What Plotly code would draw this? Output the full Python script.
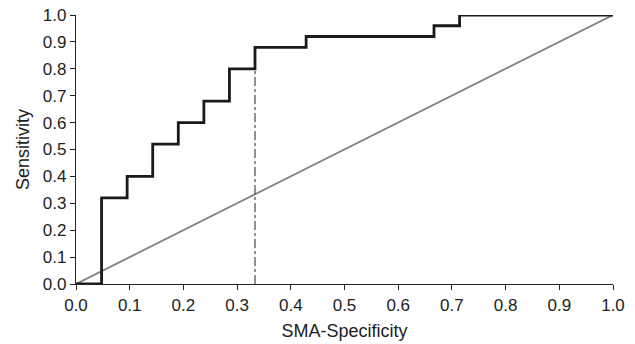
import plotly.graph_objects as go

# ROC curve data (1 - specificity steps of 1/21, sensitivity steps of 1/25)
roc_x = [0.0, 1/21, 1/21, 2/21, 2/21, 3/21, 3/21, 4/21, 4/21, 5/21, 5/21, 6/21, 6/21,
         7/21, 7/21, 9/21, 9/21, 14/21, 14/21, 15/21, 15/21, 1.0]
roc_y = [0.0, 0.0, 0.32, 0.32, 0.40, 0.40, 0.52, 0.52, 0.60, 0.60, 0.68, 0.68, 0.80,
         0.80, 0.88, 0.88, 0.92, 0.92, 0.96, 0.96, 1.0, 1.0]
diag_x = [0.0, 1.0]
diag_y = [0.0, 1.0]
cut_x = [7/21, 7/21]
cut_y = [0.0, 0.88]
tick_vals = [i / 10 for i in range(11)]
tick_text = [f"{v:.1f}" for v in tick_vals]

FONT = "Liberation Sans, Arial, sans-serif"

fig = go.Figure()
fig.add_trace(go.Scatter(x=diag_x, y=diag_y, mode="lines",
                         line=dict(color="#808080", width=1.8), showlegend=False,
                         cliponaxis=False))
fig.add_trace(go.Scatter(x=cut_x, y=cut_y, mode="lines",
                         line=dict(color="#222222", width=1, dash="dashdot"), showlegend=False))
fig.add_trace(go.Scatter(x=roc_x, y=roc_y, mode="lines",
                         line=dict(color="#1a1a1a", width=2.8), showlegend=False,
                         cliponaxis=False))

axis_common = dict(
    range=[0, 1.0], tickvals=tick_vals, ticktext=tick_text, automargin=False,
    showgrid=False, zeroline=False, showline=True, linecolor="#222222", linewidth=1.2,
    ticks="outside", ticklen=5, tickwidth=1.2, tickcolor="#222222",
    tickfont=dict(family=FONT, size=17, color="#222222"),
)
fig.update_layout(
    width=635, height=344,
    margin=dict(l=76, r=22, t=15, b=60, autoexpand=False),
    plot_bgcolor="white", paper_bgcolor="white",
    xaxis=dict(**axis_common, title=dict(text="SMA-Specificity", standoff=10,
               font=dict(family=FONT, size=18, color="#222222"))),
    yaxis=dict(**axis_common, title=dict(text="Sensitivity", standoff=8,
               font=dict(family=FONT, size=18, color="#222222"))),
)
fig.write_html("out.html", config={"displayModeBar": False},
               post_script="document.body.style.margin='0';")
